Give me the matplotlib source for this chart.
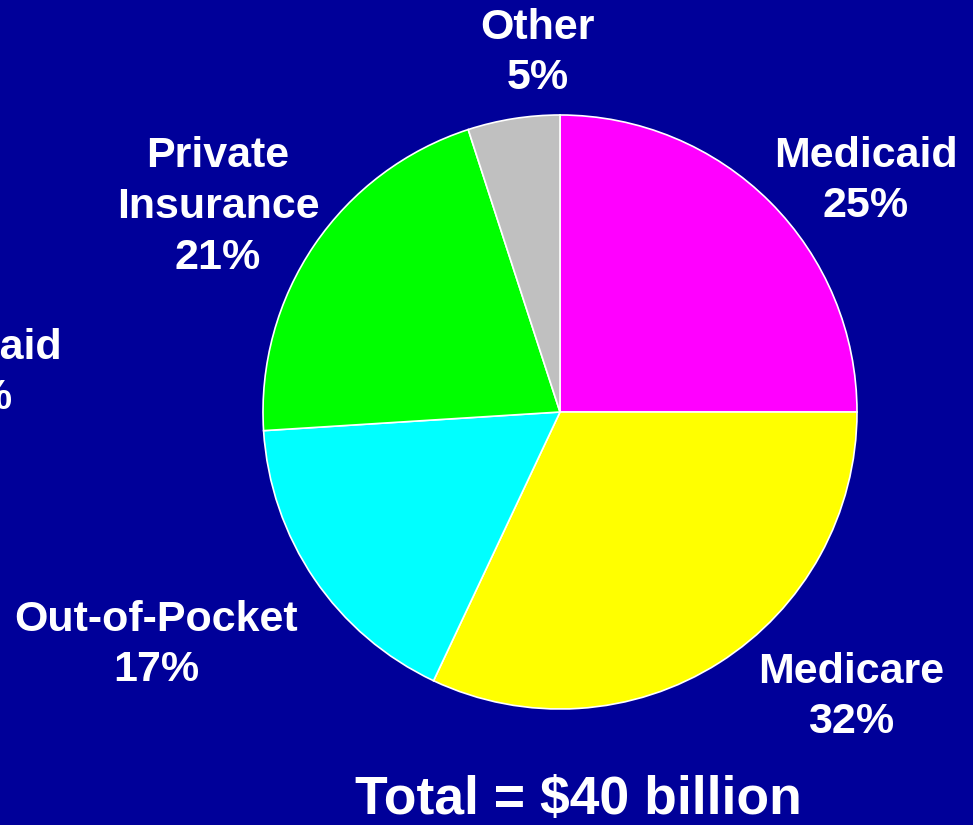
import matplotlib
matplotlib.use("Agg")
import matplotlib.pyplot as plt

# data
payers = ["Medicaid", "Medicare", "Out-of-Pocket", "Private\nInsurance", "Other"]
shares = [25, 32, 17, 21, 5]
colors = ["#ff00ff", "#ffff00", "#00ffff", "#00ff00", "#c0c0c0"]
total_text = "Total = $40 billion"

bg = "#000099"
W, H = 973, 825

plt.rcParams['font.family'] = ['Liberation Sans', 'DejaVu Sans']

fig = plt.figure(figsize=(W / 100, H / 100), dpi=100, facecolor=bg)

# pie centre ~ (560, 412) px, radius ~296 px
cx, cy, r = 560, 412, 297
ax = fig.add_axes([(cx - r) / W, (H - cy - r) / H, 2 * r / W, 2 * r / H])
ax.set_facecolor(bg)
ax.pie(shares, colors=colors, startangle=90, counterclock=False,
       wedgeprops=dict(edgecolor="white", linewidth=1.2))
ax.set_xlim(-1.0, 1.0)
ax.set_ylim(-1.0, 1.0)
ax.set_aspect("equal")
ax.axis("off")

def px_text(x, y, s, size=31):
    fig.text(x / W, 1 - y / H, s, ha="center", va="center", color="white",
             fontsize=size, fontweight="bold", linespacing=1.34)

# label centres in pixels, same order as payers
label_pos = [(866, 181), (851, 697), (156, 645), (218, 207), (538, 53)]
for name, val, (x, y) in zip(payers, shares, label_pos):
    px_text(x, y, f"{name}\n{val}%")

# cut-off label from the neighbouring chart on the slide
px_text(-30, 373, "Medicaid\n25%")

px_text(578, 800, total_text, size=38.5)

fig.savefig("out.png", dpi=100, facecolor=bg)
